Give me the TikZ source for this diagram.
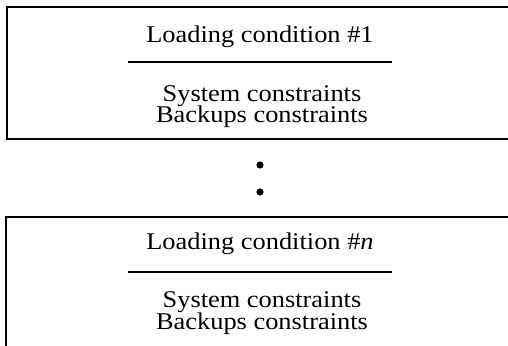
\documentclass[tikz,border=0pt]{standalone}
\usepackage{fontspec}
\setmainfont[FakeStretch=1.1]{Liberation Serif}
\usetikzlibrary{positioning}

\begin{document}
\begin{tikzpicture}[x=0.5pt, y=-0.5pt, every node/.style={font=\fontsize{12}{14}\selectfont, inner sep=0pt, anchor=base},
    frame/.style={line width=1pt},
    rule/.style={line width=0.8pt},
    dot/.style={circle, fill, minimum size=3.6pt, anchor=center}]
                \useasboundingbox (0,0) rectangle (508,346);

                % first loading condition, open at the right
                \coordinate (A1) at (508,7);
                \coordinate (A2) at (7,7);
                \coordinate (A3) at (7,139);
                \coordinate (A4) at (508,139);
                \draw[frame] (A1) -- (A2) -- (A3) -- (A4);
                \node (L1) at (260,43)  {Loading condition \#1};
                \coordinate (R1a) at (128,62);
                \coordinate (R1b) at (392,62);
                \draw[rule] (R1a) -- (R1b);
                \node (S1) at (262,102) {System constraints};
                \node (K1) at (262,123) {Backups constraints};

                % dots in between
                \node[dot] (D1) at (260,165) {};
                \node[dot] (D2) at (260,192) {};

                % last loading condition, cut at the bottom
                \coordinate (B1) at (508,217);
                \coordinate (B2) at (6,217);
                \coordinate (B3) at (6,346);
                \draw[frame] (B1) -- (B2) -- (B3);
                \node (Ln) at (260,250) {Loading condition \#\textit{n}};
                \coordinate (Rna) at (128,272);
                \coordinate (Rnb) at (392,272);
                \draw[rule] (Rna) -- (Rnb);
                \node (Sn) at (262,308) {System constraints};
                \node (Kn) at (262,330) {Backups constraints};
            \end{tikzpicture}
\end{document}
